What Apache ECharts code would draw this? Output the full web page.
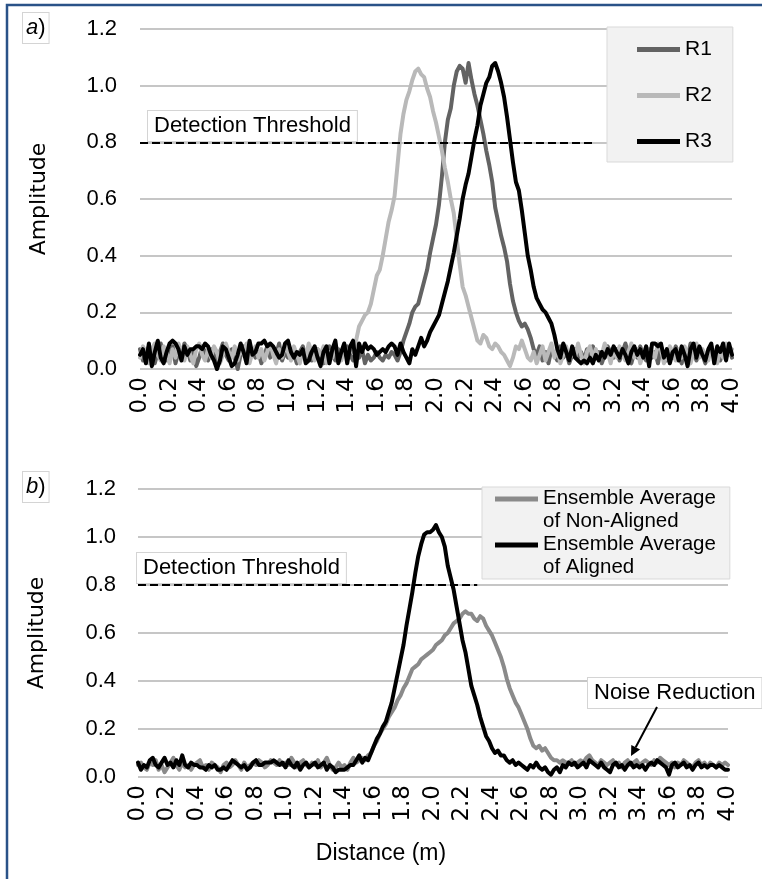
<!DOCTYPE html>
<html><head><meta charset="utf-8">
<script src="https://cdn.jsdelivr.net/npm/echarts@6/dist/echarts.min.js"></script>
<style>html,body{margin:0;padding:0;background:#fff}#c{width:762px;height:879px}</style>
</head><body><div id="c"></div>
<script>
// x categories: distance in metres, 0.00 .. 4.00 step 0.02
const distances = [];
for (let i = 0; i <= 200; i++) distances.push((i * 0.02).toFixed(2));

const thresholdLevel = 0.8;
const thresholdEndTop = '3.08';
const thresholdEndBottom = '2.30';

// panel a)
const r1 = [
0.07,0.03,0.05,0.08,0.04,0.02,0.06,0.09,0.05,0.03,
0.05,0.08,0.02,0.06,0.04,0.09,0.07,0.03,0.06,0.01,
0.04,0.08,0.06,0.03,0.07,0.05,0.02,0.06,0.09,0.05,
0.03,0.07,0.04,0.00,0.05,0.08,0.06,0.03,0.07,0.04,
0.06,0.02,0.05,0.08,0.04,0.07,0.05,0.09,0.03,0.06,
0.04,0.07,0.05,0.02,0.06,0.08,0.04,0.06,0.03,0.05,
0.07,0.04,0.02,0.06,0.08,0.05,0.03,0.07,0.04,0.06,
0.08,0.05,0.03,0.06,0.04,0.07,0.02,0.05,0.03,0.04,
0.06,0.04,0.03,0.05,0.04,0.06,0.05,0.03,0.06,0.10,
0.13,0.16,0.20,0.22,0.23,0.27,0.31,0.35,0.41,0.46,
0.51,0.58,0.68,0.80,0.88,0.92,1.00,1.05,1.07,1.06,
1.01,1.08,1.02,0.97,0.93,0.88,0.83,0.77,0.72,0.66,
0.57,0.52,0.47,0.43,0.38,0.30,0.24,0.20,0.17,0.15,
0.16,0.14,0.11,0.07,0.05,0.08,0.03,0.06,0.02,0.07,
0.05,0.03,0.08,0.04,0.06,0.02,0.05,0.07,0.04,0.06,
0.03,0.07,0.05,0.08,0.04,0.06,0.02,0.05,0.08,0.06,
0.04,0.07,0.03,0.06,0.09,0.05,0.02,0.06,0.04,0.08,
0.05,0.03,0.07,0.04,0.06,0.02,0.08,0.05,0.03,0.06,
0.04,0.08,0.05,0.02,0.07,0.04,0.09,0.06,0.03,0.07,
0.05,0.02,0.06,0.08,0.04,0.07,0.03,0.06,0.05,0.08,
0.04];
const r2 = [
0.04,0.08,0.06,0.02,0.07,0.09,0.05,0.03,0.08,0.06,
0.02,0.07,0.04,0.09,0.06,0.03,0.08,0.05,0.02,0.07,
0.09,0.05,0.03,0.07,0.04,0.08,0.06,0.02,0.05,0.09,
0.06,0.04,0.08,0.03,0.07,0.05,0.09,0.02,0.06,0.08,
0.04,0.07,0.03,0.06,0.09,0.05,0.02,0.07,0.04,0.08,
0.06,0.03,0.08,0.05,0.02,0.07,0.04,0.09,0.06,0.03,
0.07,0.05,0.08,0.02,0.06,0.04,0.09,0.05,0.03,0.07,
0.04,0.08,0.06,0.10,0.15,0.17,0.19,0.20,0.23,0.28,
0.33,0.35,0.40,0.46,0.52,0.56,0.61,0.72,0.83,0.90,
0.95,0.98,1.02,1.05,1.06,1.04,1.03,0.99,0.96,0.91,
0.87,0.82,0.77,0.71,0.66,0.60,0.55,0.46,0.37,0.29,
0.26,0.22,0.18,0.14,0.10,0.09,0.12,0.11,0.08,0.07,
0.09,0.08,0.06,0.05,0.03,0.01,0.04,0.08,0.07,0.10,
0.07,0.04,0.03,0.06,0.02,0.05,0.08,0.03,0.06,0.09,
0.04,0.07,0.02,0.05,0.08,0.03,0.06,0.04,0.09,0.05,
0.02,0.06,0.08,0.04,0.07,0.03,0.05,0.09,0.06,0.02,
0.07,0.04,0.08,0.05,0.03,0.06,0.09,0.04,0.07,0.02,
0.05,0.08,0.03,0.06,0.04,0.09,0.07,0.02,0.05,0.08,
0.06,0.03,0.07,0.04,0.08,0.05,0.02,0.06,0.09,0.04,
0.07,0.05,0.03,0.08,0.06,0.02,0.07,0.04,0.09,0.05,
0.07];
const r3 = [
0.05,0.07,0.02,0.09,0.01,0.06,0.10,0.04,0.02,0.06,
0.09,0.10,0.09,0.07,0.03,0.08,0.05,0.07,0.07,0.08,
0.08,0.07,0.09,0.08,0.05,0.03,0.00,0.03,0.08,0.07,
0.04,0.01,0.02,0.05,0.09,0.06,0.02,0.10,0.05,0.06,
0.09,0.09,0.10,0.08,0.09,0.08,0.06,0.04,0.05,0.09,
0.10,0.06,0.04,0.06,0.05,0.07,0.02,0.03,0.06,0.08,
0.04,0.01,0.06,0.08,0.02,0.07,0.10,0.02,0.06,0.09,
0.02,0.08,0.10,0.01,0.09,0.06,0.09,0.07,0.08,0.07,
0.05,0.06,0.07,0.06,0.08,0.09,0.08,0.05,0.09,0.06,
0.04,0.02,0.07,0.05,0.08,0.11,0.08,0.10,0.13,0.15,
0.17,0.19,0.23,0.27,0.31,0.36,0.41,0.47,0.53,0.60,
0.65,0.69,0.75,0.81,0.86,0.93,0.97,1.01,1.03,1.07,
1.08,1.05,1.01,0.96,0.89,0.81,0.73,0.66,0.63,0.56,
0.48,0.40,0.35,0.29,0.25,0.23,0.21,0.20,0.18,0.16,
0.12,0.07,0.04,0.09,0.06,0.03,0.08,0.04,0.03,0.02,
0.03,0.02,0.04,0.02,0.05,0.03,0.06,0.04,0.07,0.05,
0.08,0.06,0.04,0.07,0.05,0.02,0.06,0.08,0.05,0.07,
0.04,0.08,0.01,0.09,0.09,0.08,0.09,0.04,0.07,0.02,
0.06,0.07,0.03,0.08,0.05,0.01,0.07,0.09,0.04,0.08,
0.05,0.03,0.07,0.09,0.02,0.08,0.06,0.09,0.03,0.09,
0.05];

// panel b)
const nonAligned = [
0.05,0.06,0.04,0.03,0.06,0.05,0.07,0.03,0.05,0.02,
0.04,0.06,0.08,0.05,0.03,0.06,0.04,0.05,0.03,0.05,
0.06,0.07,0.04,0.05,0.03,0.06,0.05,0.04,0.02,0.05,
0.06,0.04,0.05,0.07,0.05,0.03,0.06,0.04,0.05,0.06,
0.05,0.07,0.06,0.04,0.05,0.07,0.06,0.05,0.07,0.05,
0.06,0.05,0.08,0.06,0.04,0.06,0.07,0.05,0.04,0.06,
0.05,0.07,0.04,0.06,0.08,0.05,0.03,0.04,0.06,0.04,
0.05,0.03,0.06,0.08,0.06,0.07,0.08,0.07,0.09,0.10,
0.13,0.15,0.18,0.20,0.22,0.25,0.27,0.29,0.32,0.34,
0.37,0.39,0.42,0.45,0.46,0.47,0.49,0.50,0.51,0.52,
0.53,0.55,0.56,0.57,0.59,0.60,0.62,0.64,0.65,0.66,
0.68,0.69,0.68,0.68,0.66,0.65,0.67,0.66,0.63,0.61,
0.59,0.56,0.53,0.50,0.46,0.41,0.37,0.34,0.31,0.29,
0.26,0.23,0.20,0.16,0.13,0.12,0.13,0.11,0.12,0.10,
0.08,0.07,0.07,0.06,0.07,0.06,0.06,0.07,0.05,0.06,
0.07,0.06,0.08,0.09,0.07,0.06,0.05,0.07,0.06,0.05,
0.06,0.07,0.05,0.06,0.04,0.06,0.07,0.05,0.06,0.07,
0.05,0.06,0.07,0.06,0.05,0.07,0.06,0.08,0.07,0.06,
0.05,0.06,0.04,0.06,0.05,0.07,0.06,0.05,0.04,0.06,
0.07,0.05,0.06,0.04,0.06,0.05,0.04,0.06,0.05,0.06,
0.05];
const aligned = [
0.06,0.03,0.05,0.04,0.07,0.08,0.05,0.04,0.06,0.08,
0.05,0.06,0.04,0.07,0.05,0.09,0.05,0.04,0.06,0.05,
0.05,0.04,0.04,0.03,0.05,0.04,0.05,0.03,0.03,0.04,
0.03,0.05,0.07,0.06,0.05,0.04,0.05,0.03,0.04,0.06,
0.07,0.05,0.05,0.06,0.06,0.06,0.07,0.06,0.05,0.06,
0.04,0.07,0.05,0.04,0.06,0.03,0.05,0.06,0.04,0.05,
0.06,0.04,0.05,0.06,0.03,0.05,0.04,0.02,0.03,0.03,
0.03,0.04,0.05,0.05,0.07,0.09,0.06,0.08,0.07,0.10,
0.13,0.16,0.18,0.21,0.23,0.27,0.31,0.37,0.43,0.49,
0.55,0.63,0.70,0.77,0.85,0.92,0.97,1.01,1.02,1.02,
1.03,1.05,1.02,1.00,0.96,0.88,0.83,0.78,0.71,0.64,
0.57,0.52,0.45,0.38,0.34,0.30,0.25,0.21,0.17,0.15,
0.12,0.10,0.11,0.09,0.09,0.07,0.06,0.07,0.05,0.06,
0.05,0.04,0.03,0.05,0.04,0.06,0.04,0.03,0.04,0.02,
0.01,0.03,0.04,0.02,0.05,0.04,0.06,0.05,0.06,0.04,
0.05,0.06,0.04,0.07,0.06,0.05,0.04,0.06,0.04,0.03,
0.02,0.05,0.06,0.04,0.05,0.03,0.05,0.06,0.04,0.05,
0.04,0.05,0.03,0.05,0.06,0.05,0.07,0.06,0.05,0.04,
0.01,0.05,0.06,0.04,0.05,0.06,0.04,0.05,0.03,0.05,
0.06,0.04,0.05,0.04,0.05,0.05,0.04,0.05,0.04,0.03,
0.03];

const FONT = '"Liberation Sans", Arial, sans-serif';
const WIDE = '"DejaVu Sans", "Liberation Sans", sans-serif';
const chart = echarts.init(document.getElementById('c'), null, {renderer: 'canvas'});

function yAxisFor(gi, margin) {
  return {
    type: 'value', gridIndex: gi, min: 0, max: 1.2, interval: 0.2,
    name: 'Amplitude', nameLocation: 'middle', nameGap: 90,
    nameTextStyle: {fontFamily: WIDE, fontSize: 22, color: '#000'},
    axisLine: {show: false}, axisTick: {show: false},
    axisLabel: {fontFamily: FONT, fontSize: 22, color: '#000', margin: margin,
      formatter: v => v.toFixed(1)},
    splitLine: {lineStyle: {color: '#c6c6c6', width: 2}}
  };
}
function xAxisFor(gi) {
  return {
    type: 'category', gridIndex: gi, data: distances, boundaryGap: false,
    axisLine: {show: false}, axisTick: {show: false}, splitLine: {show: false},
    axisLabel: {fontFamily: WIDE, fontSize: 23, color: '#000', rotate: 90, interval: 9, margin: 8,
      formatter: v => parseFloat(v).toFixed(1)}
  };
}
function lineSeries(name, data, color, xi, yi, extra) {
  return Object.assign({
    name: name, type: 'line', data: data, xAxisIndex: xi, yAxisIndex: yi,
    showSymbol: false, symbol: 'none', smooth: false,
    lineStyle: {color: color, width: 4, join: 'round', cap: 'round'},
    itemStyle: {color: color},
    emphasis: {disabled: true}, silent: true, animation: false
  }, extra || {});
}
function thresholdMark(endCat) {
  return {
    silent: true, symbol: ['none', 'none'], animation: false,
    label: {show: false},
    lineStyle: {color: '#000', width: 2, type: [8, 4]},
    data: [[{coord: [distances[0], thresholdLevel]}, {coord: [endCat, thresholdLevel]}]]
  };
}

const NA = 'Ensemble Average of Non-Aligned';
const AL = 'Ensemble Average of Aligned';
const iconSmall = 'path://M0,0h0.01v0.01h-0.01zM0,9h43v5h-43zM42.99,22.99h0.01v0.01h-0.01z';
const iconTall = 'path://M0,0h0.01v0.01h-0.01zM0,9.5h43v5h-43zM42.99,45.99h0.01v0.01h-0.01z';

const boxText = (text, x, y) => ({
  type: 'text', left: x, top: y, z: 100, silent: true,
  style: {text: text, fontFamily: FONT, fontSize: 22, fill: '#000',
    backgroundColor: '#fff', borderColor: '#d4d4d4', borderWidth: 1,
    padding: [4, 6, 4, 6], lineHeight: 22}
});
const panelLabel = (letter, x, y) => ({
  type: 'text', left: x, top: y, z: 100, silent: true,
  style: {text: '{i|' + letter + '})', fontFamily: FONT, fontSize: 22, fill: '#000',
    backgroundColor: '#fff', borderColor: '#d4d4d4', borderWidth: 1,
    padding: [4, 3, 4, 3], lineHeight: 22,
    rich: {i: {fontStyle: 'italic', fontFamily: FONT, fontSize: 22, lineHeight: 22}}}
});

chart.setOption({
  animation: false,
  backgroundColor: '#fff',
  textStyle: {fontFamily: FONT},
  grid: [
    {left: 140, top: 29, width: 592, height: 340},
    {left: 138, top: 489, width: 590, height: 288}
  ],
  xAxis: [xAxisFor(0), xAxisFor(1)],
  yAxis: [yAxisFor(0, 23), yAxisFor(1, 22)],
  legend: [
    {
      data: ['R1', 'R2', 'R3'], orient: 'vertical', left: 607, top: 27,
      padding: [11, 21, 9, 30], itemGap: 23, itemWidth: 43, itemHeight: 23,
      icon: iconSmall, selectedMode: false,
      backgroundColor: '#f2f2f2', borderColor: '#d9d9d9', borderWidth: 1, borderRadius: 0,
      itemStyle: {borderWidth: 0},
      textStyle: {fontFamily: FONT, fontSize: 21, color: '#000', lineHeight: 23}
    },
    {
      data: [NA, AL], orient: 'vertical', left: 482, top: 487,
      padding: [0, 14, 0, 13], itemGap: 0, itemWidth: 43, itemHeight: 46,
      icon: iconTall, selectedMode: false,
      backgroundColor: '#f2f2f2', borderColor: '#d9d9d9', borderWidth: 1, borderRadius: 0,
      itemStyle: {borderWidth: 0},
      formatter: n => n.replace(' of ', '\nof '),
      textStyle: {fontFamily: FONT, fontSize: 20.5, color: '#000', lineHeight: 23}
    }
  ],
  graphic: [
    {type: 'rect', z: 0, silent: true, shape: {x: 7, y: 5, width: 800, height: 900},
      style: {fill: 'none', stroke: '#2a5288', lineWidth: 2.5}},
    panelLabel('a', 22, 12),
    panelLabel('b', 22, 471),
    boxText('Detection Threshold', 147, 110),
    boxText('Detection Threshold', 136, 552),
    boxText('Noise Reduction', 587, 677),
    {type: 'text', left: 'center', top: 842, silent: true,
      style: {text: 'Distance (m)', fontFamily: FONT, fontSize: 23, fill: '#000'}},
    {type: 'line', z: 100, silent: true, shape: {x1: 657, y1: 707, x2: 635.7, y2: 747.2},
      style: {stroke: '#000', lineWidth: 2}},
    {type: 'polygon', z: 100, silent: true,
      shape: {points: [[631, 756], [640.1, 749.5], [631.3, 744.9]]}, style: {fill: '#000'}}
  ],
  series: [
    lineSeries('R1', r1, '#636363', 0, 0, {markLine: thresholdMark(thresholdEndTop)}),
    lineSeries('R2', r2, '#b9b9b9', 0, 0),
    lineSeries('R3', r3, '#000000', 0, 0),
    lineSeries(NA, nonAligned, '#8a8a8a', 1, 1, {markLine: thresholdMark(thresholdEndBottom)}),
    lineSeries(AL, aligned, '#000000', 1, 1)
  ]
});
</script>
</body></html>
